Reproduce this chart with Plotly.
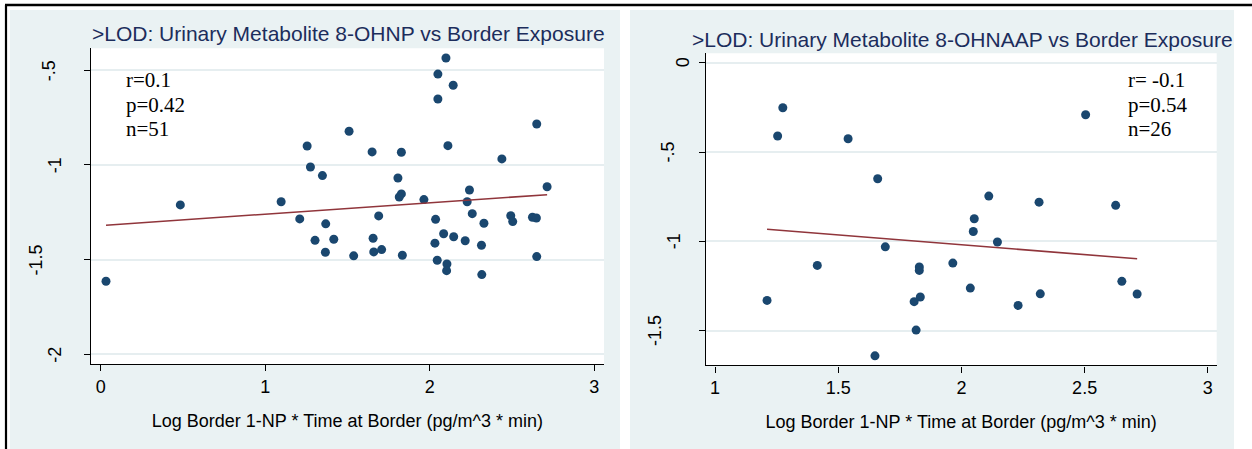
import plotly.graph_objects as go

W, H = 1252, 449

# ---- 8-OHNP panel data ----
ohnp_x = [0.032, 0.484, 1.097, 1.255, 1.275, 1.348, 1.210, 1.368, 1.303, 1.417, 1.366, 1.510,
          2.099, 2.050, 2.143, 2.050, 2.651, 1.650, 1.828, 2.111, 2.439, 1.807, 1.828, 1.815, 1.965,
          2.242, 2.228, 2.714, 2.259, 1.690, 2.036, 2.330, 2.493, 2.505, 2.625, 2.649, 1.656, 1.538,
          1.660, 1.708, 1.834, 2.032, 2.085, 2.146, 2.216, 2.315, 2.046, 2.105, 2.103, 2.317, 2.651]
ohnp_y = [-1.614, -1.211, -1.194, -0.900, -1.011, -1.056, -1.285, -1.311, -1.398, -1.392, -1.461, -0.822,
          -0.435, -0.520, -0.579, -0.652, -0.784, -0.931, -0.933, -0.898, -0.968, -1.069, -1.153, -1.169, -1.183,
          -1.132, -1.194, -1.115, -1.257, -1.269, -1.287, -1.308, -1.268, -1.299, -1.276, -1.280, -1.387, -1.480,
          -1.459, -1.447, -1.477, -1.413, -1.363, -1.379, -1.400, -1.424, -1.503, -1.523, -1.558, -1.579, -1.484]
ohnp_fit_x = [0.032, 2.714]
ohnp_fit_y = [-1.318, -1.157]
ohnp_stats = ["r=0.1", "p=0.42", "n=51"]
ohnp_title = ">LOD: Urinary Metabolite 8-OHNP vs Border Exposure"
ohnp_xticks = [0, 1, 2, 3]
ohnp_xticktext = ["0", "1", "2", "3"]
ohnp_yticks = [-0.5, -1, -1.5, -2]
ohnp_yticktext = ["-.5", "-1", "-1.5", "-2"]

# ---- 8-OHNAAP panel data ----
ohnaap_x = [1.275, 1.254, 1.540, 1.660, 1.691, 1.415, 1.829, 1.829, 1.965, 1.211, 1.833, 1.808, 1.816,
            1.649, 2.504, 2.111, 2.315, 2.626, 2.052, 2.048, 2.146, 2.036, 2.230, 2.320, 2.651, 2.713]
ohnaap_y = [-0.252, -0.410, -0.425, -0.649, -1.030, -1.134, -1.143, -1.162, -1.121, -1.330, -1.311, -1.337,
            -1.496, -1.640, -0.291, -0.746, -0.780, -0.798, -0.873, -0.944, -1.003, -1.261, -1.358, -1.293,
            -1.223, -1.294]
ohnaap_fit_x = [1.211, 2.713]
ohnaap_fit_y = [-0.932, -1.097]
ohnaap_stats = ["r= -0.1", "p=0.54", "n=26"]
ohnaap_title = ">LOD: Urinary Metabolite 8-OHNAAP vs Border Exposure"
ohnaap_xticks = [1, 1.5, 2, 2.5, 3]
ohnaap_xticktext = ["1", "1.5", "2", "2.5", "3"]
ohnaap_yticks = [0, -0.5, -1, -1.5]
ohnaap_yticktext = ["0", "-.5", "-1", "-1.5"]

x_title = "Log Border 1-NP * Time at Border (pg/m^3 * min)"

# ---- styling ----
NAVY = "#1a476f"
MAROON = "#90353b"
REGION_BG = "#eaf2f3"
GRID = "#e6eef0"
TITLE_COLOR = "#1c2d5c"
SANS = "Liberation Sans, Arial, sans-serif"
SERIF = "Liberation Serif, Times New Roman, serif"


def fx(px):
    return px / W


def fy(py):
    return 1 - py / H


def label_len(s, size=18):
    widths = {"-": 0.333, ".": 0.278}
    return sum(widths.get(c, 0.556) for c in s) * size


fig = go.Figure()

fig.add_trace(go.Scatter(x=ohnp_x, y=ohnp_y, mode="markers", xaxis="x", yaxis="y",
                         marker=dict(color=NAVY, size=9, line=dict(width=0)), showlegend=False))
fig.add_trace(go.Scatter(x=ohnp_fit_x, y=ohnp_fit_y, mode="lines", xaxis="x", yaxis="y",
                         line=dict(color=MAROON, width=1.6), showlegend=False))
fig.add_trace(go.Scatter(x=ohnaap_x, y=ohnaap_y, mode="markers", xaxis="x2", yaxis="y2",
                         marker=dict(color=NAVY, size=9, line=dict(width=0)), showlegend=False))
fig.add_trace(go.Scatter(x=ohnaap_fit_x, y=ohnaap_fit_y, mode="lines", xaxis="x2", yaxis="y2",
                         line=dict(color=MAROON, width=1.6), showlegend=False))

# pixel geometry of the two plot regions: (left, right, top, bottom)
plots = {
    "1": dict(l=90.7, r=604.0, t=48.3, b=364.0, xr=[-0.061, 3.060], yr=[-2.051, -0.384],
              xt=ohnp_xticks, xtt=ohnp_xticktext),
    "2": dict(l=705.7, r=1216.7, t=53.3, b=365.3, xr=[0.962, 3.036], yr=[-1.693, 0.053],
              xt=ohnaap_xticks, xtt=ohnaap_xticktext),
}

axis_common = dict(showline=True, linecolor="black", linewidth=1.4, ticks="outside", ticklen=6,
                   tickcolor="black", tickwidth=1.2, zeroline=False)

layout_axes = {}
for key, p in plots.items():
    xa = "xaxis" if key == "1" else "xaxis2"
    ya = "yaxis" if key == "1" else "yaxis2"
    yanchor = "y" if key == "1" else "y2"
    xanchor = "x" if key == "1" else "x2"
    layout_axes[xa] = dict(domain=[fx(p["l"]), fx(p["r"])], range=p["xr"], anchor=yanchor,
                           tickvals=p["xt"], ticktext=p["xtt"], showgrid=False,
                           tickfont=dict(family=SANS, size=18, color="black"),
                           title=dict(text=x_title, font=dict(family=SANS, size=18, color="black"),
                                      standoff=18),
                           **axis_common)
    layout_axes[ya] = dict(domain=[fy(p["b"]), fy(p["t"])], range=p["yr"], anchor=xanchor,
                           tickvals=ohnp_yticks if key == "1" else ohnaap_yticks,
                           showticklabels=False, showgrid=True, gridcolor=GRID, gridwidth=1.6,
                           **axis_common)

shapes = [
    # graph regions
    dict(type="rect", xref="paper", yref="paper", x0=fx(10), x1=fx(620), y0=0, y1=fy(10),
         fillcolor=REGION_BG, line=dict(width=0), layer="below"),
    dict(type="rect", xref="paper", yref="paper", x0=fx(630), x1=fx(1234), y0=0, y1=fy(10),
         fillcolor=REGION_BG, line=dict(width=0), layer="below"),
    # white plot regions
    dict(type="rect", xref="x domain", yref="y domain", x0=0, x1=1, y0=0, y1=1,
         fillcolor="white", line=dict(width=0), layer="below"),
    dict(type="rect", xref="x2 domain", yref="y2 domain", x0=0, x1=1, y0=0, y1=1,
         fillcolor="white", line=dict(width=0), layer="below"),
    # text boxes behind the statistics
    dict(type="rect", xref="paper", yref="paper", x0=fx(106), x1=fx(216), y0=fy(142), y1=fy(58),
         fillcolor="white", line=dict(width=0), layer="between"),
    dict(type="rect", xref="paper", yref="paper", x0=fx(1108), x1=fx(1216), y0=fy(142), y1=fy(56),
         fillcolor="white", line=dict(width=0), layer="between"),
    # outer frame
    dict(type="line", xref="paper", yref="paper", x0=fx(5), x1=1, y0=fy(5), y1=fy(5),
         line=dict(color="black", width=2.5), layer="above"),
    dict(type="line", xref="paper", yref="paper", x0=fx(6), x1=fx(6), y0=0, y1=fy(5),
         line=dict(color="black", width=2.2), layer="above"),
]

annotations = []
# panel titles
annotations.append(dict(text=ohnp_title, xref="paper", yref="paper", x=fx(348), y=fy(34),
                        xanchor="center", yanchor="middle", showarrow=False,
                        font=dict(family=SANS, size=21, color=TITLE_COLOR)))
annotations.append(dict(text=ohnaap_title, xref="paper", yref="paper", x=fx(962.5), y=fy(39),
                        xanchor="center", yanchor="middle", showarrow=False,
                        font=dict(family=SANS, size=21, color=TITLE_COLOR)))

# statistics text
stat_rows = [80, 105, 129]
for stats, xl in ((ohnp_stats, 123.5), (ohnaap_stats, 1126.0)):
    for s, yc in zip(stats, stat_rows):
        annotations.append(dict(text=s, xref="paper", yref="paper", x=fx(xl), y=fy(yc),
                                xanchor="left", yanchor="middle", showarrow=False,
                                font=dict(family=SERIF, size=21, color="black")))

# rotated y tick labels
for ticks, texts, yref, base in ((ohnp_yticks, ohnp_yticktext, "y", 76.2),
                                 (ohnaap_yticks, ohnaap_yticktext, "y2", 695.6)):
    for v, t in zip(ticks, texts):
        cx = base - 1.3 * label_len(t)
        annotations.append(dict(text=t, xref="paper", yref=yref, x=fx(cx), y=v,
                                xanchor="center", yanchor="middle", textangle=-90,
                                showarrow=False,
                                font=dict(family=SANS, size=18, color="black")))

fig.update_layout(
    width=W, height=H,
    margin=dict(l=0, r=0, t=0, b=0),
    paper_bgcolor="white",
    plot_bgcolor="rgba(0,0,0,0)",
    shapes=shapes,
    annotations=annotations,
    **layout_axes,
)

fig.write_html("out.html")
